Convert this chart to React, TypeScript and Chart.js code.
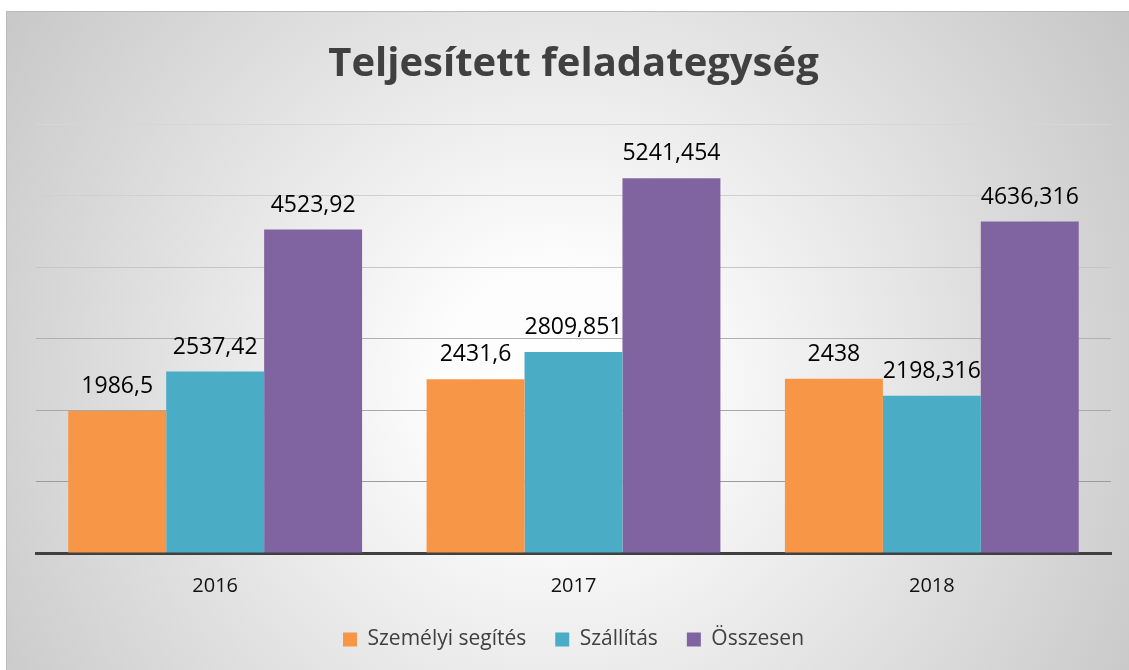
import React, { useEffect, useRef } from "react";
import { Chart, registerables } from "chart.js";

Chart.register(...registerables);

const categories = ["2016", "2017", "2018"];
const seriesNames = ["Személyi segítés", "Szállítás", "Összesen"];
const szemelyiSegites = [1986.5, 2431.6, 2438];
const szallitas = [2537.42, 2809.851, 2198.316];
const osszesen = [4523.92, 5241.454, 4636.316];
const seriesColors = ["#F79646", "#4BACC6", "#8064A2"];
const yTickValues = [0, 1000, 2000, 3000, 4000, 5000, 6000];
const gridColors = ["#404040", "#9c9c9c", "#a8a8a8", "#b0b0b0", "#c6c6c6", "#d0d0d0", "#d6d6d6"];
const titleText = "Teljesített feladategység";

const FONT = "'Open Sans', sans-serif";

const formatValue = (v: number) => String(v).replace(".", ",");

const dataLabelPlugin = {
  id: "dataLabels",
  afterDatasetsDraw(chart: any) {
    const ctx = chart.ctx;
    ctx.save();
    ctx.font = `23px ${FONT}`;
    ctx.fillStyle = "#000000";
    ctx.textAlign = "center";
    ctx.textBaseline = "alphabetic";
    chart.data.datasets.forEach((ds: any, i: number) => {
      const meta = chart.getDatasetMeta(i);
      meta.data.forEach((bar: any, j: number) => {
        ctx.fillText(formatValue(ds.data[j]), bar.x, bar.y - 18);
      });
    });
    ctx.restore();
  },
};

export default function App() {
  const canvasRef = useRef<HTMLCanvasElement | null>(null);

  useEffect(() => {
    document.documentElement.style.overflow = "hidden";
    document.body.style.overflow = "hidden";
    const canvas = canvasRef.current;
    if (!canvas) return;
    const chart = new Chart(canvas, {
      type: "bar",
      data: {
        labels: categories,
        datasets: [szemelyiSegites, szallitas, osszesen].map((d, i) => ({
          label: seriesNames[i],
          data: d,
          backgroundColor: seriesColors[i],
          borderWidth: 0,
          categoryPercentage: 0.82,
          barPercentage: 1.0,
        })),
      },
      options: {
        responsive: false,
        animation: false,
        events: [],
        layout: { padding: { left: 29, right: 18, top: 0, bottom: 10 } },
        plugins: {
          tooltip: { enabled: false },
          title: {
            display: true,
            text: titleText,
            color: "#404040",
            font: { family: FONT, size: 40, weight: "bold", lineHeight: 1.2 },
            padding: { top: 29, bottom: 35 },
          },
          legend: {
            display: true,
            position: "bottom",
            labels: {
              color: "#404040",
              font: { family: FONT, size: 21 },
              boxWidth: 14,
              boxHeight: 14,
              padding: 29,
            },
          },
        },
        scales: {
          x: {
            grid: { display: false, drawTicks: false },
            border: { display: true, color: "#404040", width: 3 },
            ticks: {
              color: "#111111",
              font: { family: FONT, size: 20, lineHeight: 1.2 },
              padding: 21,
            },
            afterFit: (scale: any) => {
              scale.height = scale.height - 19;
            },
          },
          y: {
            min: 0,
            max: 6000,
            afterBuildTicks: (scale: any) => {
              scale.ticks = yTickValues.map((v) => ({ value: v }));
            },
            afterFit: (scale: any) => {
              scale.width = 0;
            },
            ticks: { display: false },
            border: { display: false },
            grid: {
              drawTicks: false,
              lineWidth: 1,
              color: (ctx: any) => gridColors[ctx.index] || "#d0d0d0",
            },
          },
        },
      },
      plugins: [dataLabelPlugin],
    } as any);
    return () => chart.destroy();
  }, []);

  return (
    <div
      style={{
        position: "absolute",
        left: 6,
        top: 11,
        width: 1122,
        height: 658,
        borderLeft: "1px solid #bcbcbc",
        borderTop: "1px solid #bcbcbc",
        background:
          "radial-gradient(circle farthest-corner at 49% 56%, #ffffff 0%, #fcfcfc 18%, #c6c6c6 100%)",
      }}
    >
      <canvas ref={canvasRef} width={1122} height={658} style={{ display: "block" }} />
    </div>
  );
}
